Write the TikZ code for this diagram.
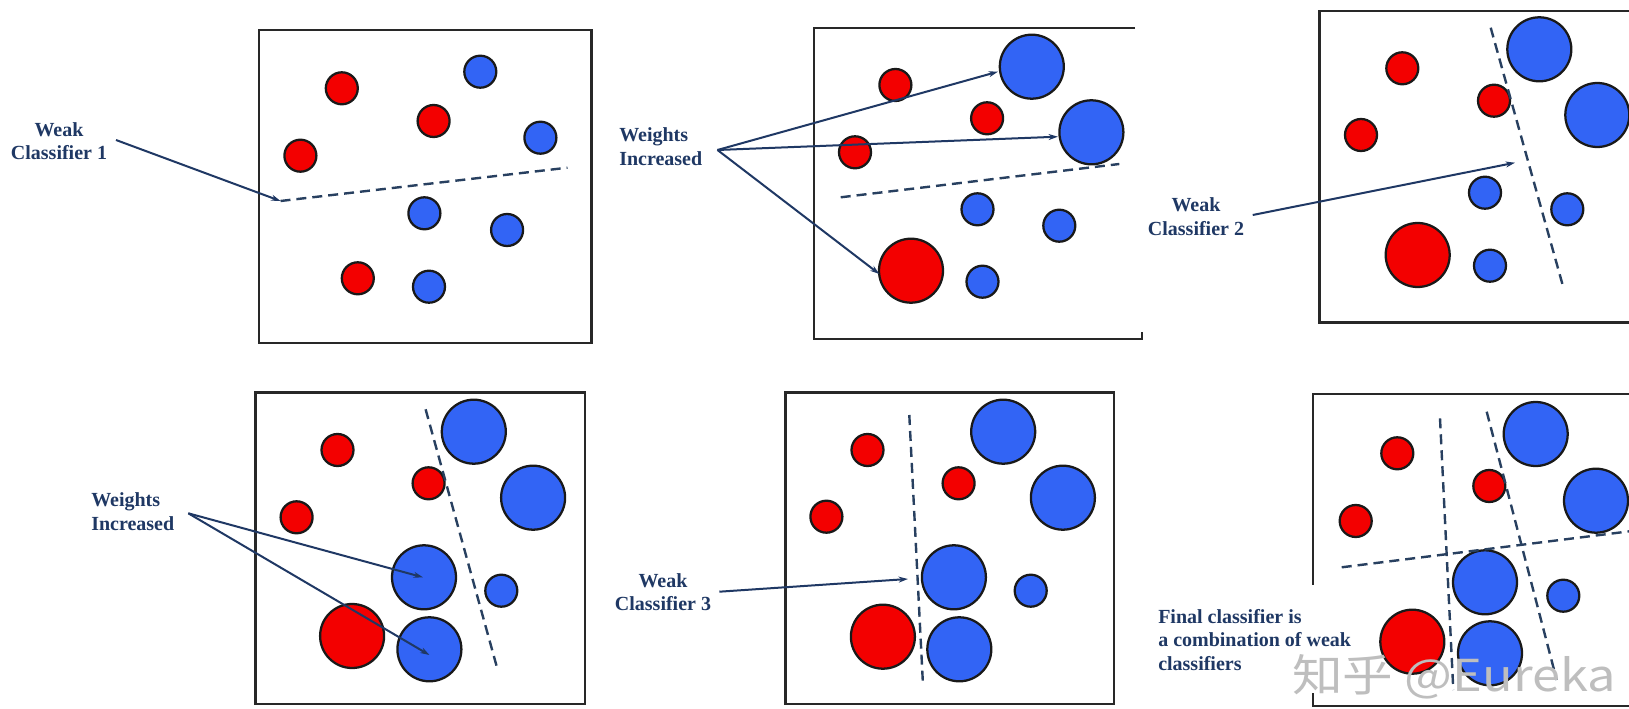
\documentclass[tikz,border=0pt]{standalone}
\usepackage{fontspec}
\setmainfont{Liberation Serif}
\newfontfamily\cjkwm{Noto Sans CJK SC}
\usetikzlibrary{arrows.meta}
\definecolor{cred}{RGB}{243,0,0}
\definecolor{cblue}{RGB}{50,100,245}
\definecolor{navy}{RGB}{31,56,100}
\definecolor{dashc}{RGB}{40,64,96}
\definecolor{edge}{RGB}{40,40,40}
\definecolor{wmark}{RGB}{190,190,190}
\tikzset{
  dot/.style={circle, draw=black!90, line width=1.7pt, inner sep=0pt},
  sr/.style={dot, fill=cred, minimum size=24pt},
  sb/.style={dot, fill=cblue, minimum size=24pt},
  br/.style={dot, fill=cred, minimum size=48pt},
  bb/.style={dot, fill=cblue, minimum size=48pt},
  panel/.style={draw=edge, line width=1.8pt},
  sep/.style={draw=dashc, line width=1.8pt, dash pattern=on 7.5pt off 4.5pt},
  pointer/.style={draw=navy, line width=1.5pt, -{Stealth[length=7pt,width=4.5pt]}},
  lbl/.style={text=navy, font=\fontsize{15}{17.5}\selectfont\bfseries, inner sep=0pt},
}
\begin{document}
\begin{tikzpicture}[x=0.75pt,y=-0.75pt]
\clip (0,0) rectangle (1629,709);
\fill[white] (0,0) rectangle (1629,709);

% ---------------- Panel 1 ----------------
\draw[panel] (258.7,30) rectangle (591.3,343.3);
\node[sr] (p1r1) at (341.8,88.3) {};
\node[sb] (p1b1) at (480.3,71.7) {};
\node[sr] (p1r2) at (433.6,121) {};
\node[sb] (p1b2) at (540.4,137.7) {};
\node[sr] (p1r3) at (300.4,155.7) {};
\node[sb] (p1b3) at (424.4,213.3) {};
\node[sb] (p1b4) at (507.1,230) {};
\node[sr] (p1r4) at (357.8,278.3) {};
\node[sb] (p1b5) at (429,286.7) {};
\coordinate (d1a) at (280.5,201);
\coordinate (d1b) at (567.5,167.7);
\draw[sep] (d1a) -- (d1b);
\node[lbl, align=center] (t1) at (59,141) {Weak\\Classifier 1};
\coordinate (o1) at (116,140);
\draw[pointer] (o1) -- (d1a);

% ---------------- Panel 2 ----------------
\draw[panel] (1135,28.3) -- (814,28.3) -- (814,339) -- (1141.7,339) -- (1141.7,332);
\node[bb] (p2B1) at (1031.8,66.7) {};
\node[sr] (p2r1) at (895.4,85) {};
\node[sr] (p2r2) at (987.1,118.3) {};
\node[bb] (p2B2) at (1091.4,132.3) {};
\node[sr] (p2r3) at (855,152.3) {};
\node[sb] (p2b1) at (977.5,209.3) {};
\node[sb] (p2b2) at (1059.3,225.7) {};
\node[br] (p2R1) at (911,270.7) {};
\node[sb] (p2b3) at (982.5,281.7) {};
\coordinate (d2a) at (840.7,197.3);
\coordinate (d2b) at (1119.3,164);
\draw[sep] (d2a) -- (d2b);
\node[lbl, align=left, anchor=west] (t2) at (619,146.5) {Weights\\Increased};
\coordinate (o2) at (717.5,150);
\coordinate (e2a) at (997.9,71.7);
\coordinate (e2b) at (1057.9,136.7);
\coordinate (e2c) at (879.3,274);
\draw[pointer] (o2) -- (e2a);
\draw[pointer] (o2) -- (e2b);
\draw[pointer] (o2) -- (e2c);

% ---------------- Panel 3 ----------------
\draw[panel] (1700,11) -- (1319.3,11) -- (1319.3,322.7) -- (1700,322.7);
\node[sr] (p3r1) at (1402.3,68.3) {};
\node[bb] (p3B1) at (1539.3,49.3) {};
\node[sr] (p3r2) at (1494,100.7) {};
\node[bb] (p3B2) at (1597.3,115) {};
\node[sr] (p3r3) at (1361,135) {};
\node[sb] (p3b1) at (1485,192.7) {};
\node[sb] (p3b2) at (1567.3,209.3) {};
\node[br] (p3R1) at (1417.7,255) {};
\node[sb] (p3b3) at (1490,265.7) {};
\coordinate (d3a) at (1490.7,27.7);
\coordinate (d3b) at (1563.3,287.3);
\draw[sep] (d3a) -- (d3b);
\node[lbl, align=center] (t3) at (1196,216.7) {Weak\\Classifier 2};
\coordinate (o3) at (1252.7,215);
\coordinate (e3) at (1515,162.7);
\draw[pointer] (o3) -- (e3);

% ---------------- Panel 4 ----------------
\draw[panel] (255.6,392.7) rectangle (584.8,704);
\node[sr] (p4r1) at (337.5,450) {};
\node[bb] (p4B1) at (473.8,431.7) {};
\node[sr] (p4r2) at (428.6,483.3) {};
\node[bb] (p4B2) at (533.1,497.7) {};
\node[sr] (p4r3) at (296.6,517.3) {};
\node[bb] (p4B3) at (424,577.3) {};
\node[sb] (p4b1) at (501.3,590.7) {};
\node[br] (p4R1) at (352.1,636) {};
\node[bb] (p4B4) at (429.4,649.3) {};
\coordinate (d4a) at (425.6,409.3);
\coordinate (d4b) at (497.5,669.3);
\draw[sep] (d4a) -- (d4b);
\node[lbl, align=left, anchor=west] (t4) at (91,511.7) {Weights\\Increased};
\coordinate (o4) at (188.3,513.3);
\coordinate (e4a) at (422.9,577.3);
\coordinate (e4b) at (429.4,655);
\draw[pointer] (o4) -- (e4a);
\draw[pointer] (o4) -- (e4b);

% ---------------- Panel 5 ----------------
\draw[panel] (785.4,392.7) rectangle (1113.9,704);
\node[sr] (p5r1) at (867.5,450) {};
\node[bb] (p5B1) at (1003.2,431.7) {};
\node[sr] (p5r2) at (958.6,483.3) {};
\node[bb] (p5B2) at (1062.9,497.7) {};
\node[sr] (p5r3) at (826.4,516.7) {};
\node[bb] (p5B3) at (953.9,577.3) {};
\node[sb] (p5b1) at (1030.7,590.7) {};
\node[br] (p5R1) at (882.9,636.7) {};
\node[bb] (p5B4) at (959.3,649.3) {};
\coordinate (d5a) at (909.3,415);
\coordinate (d5b) at (922.9,683.3);
\draw[sep] (d5a) -- (d5b);
\node[lbl, align=center] (t5) at (663,592) {Weak\\Classifier 3};
\coordinate (o5) at (719.3,591.7);
\coordinate (e5) at (907.9,579);
\draw[pointer] (o5) -- (e5);

% ---------------- Panel 6 ----------------
\draw[panel] (1700,394.3) -- (1312.7,394.3) -- (1312.7,706) -- (1700,706);
\node[sr] (p6r1) at (1397.3,453.3) {};
\node[bb] (p6B1) at (1535.7,434) {};
\node[sr] (p6r2) at (1489.3,486) {};
\node[bb] (p6B2) at (1596,500.7) {};
\node[sr] (p6r3) at (1355.7,521) {};
\node[bb] (p6B3) at (1485,582.3) {};
\node[sb] (p6b1) at (1563.3,595.7) {};
\node[br] (p6R1) at (1412.3,641.7) {};
\node[bb] (p6B4) at (1490,653.3) {};
\coordinate (d6a) at (1440,418.3);
\coordinate (d6b) at (1453.3,690);
\coordinate (d6c) at (1486.7,411.7);
\coordinate (d6d) at (1556.7,680);
\coordinate (d6e) at (1341.7,567.3);
\coordinate (d6f) at (1640,530);
\draw[sep] (d6a) -- (d6b);
\draw[sep] (d6c) -- (d6d);
\draw[sep] (d6e) -- (d6f);
\fill[white] (1145,585) rectangle (1320,693);
\node[lbl, align=left, anchor=west] (t6) at (1158,640) {Final classifier is\\a combination of weak\\classifiers};
\node[text=wmark, font=\cjkwm\fontsize{33}{33}\selectfont, anchor=base west, inner sep=0pt, xscale=1.15] (wm) at (1292,691) {知乎 @Eureka};
\end{tikzpicture}
\end{document}
